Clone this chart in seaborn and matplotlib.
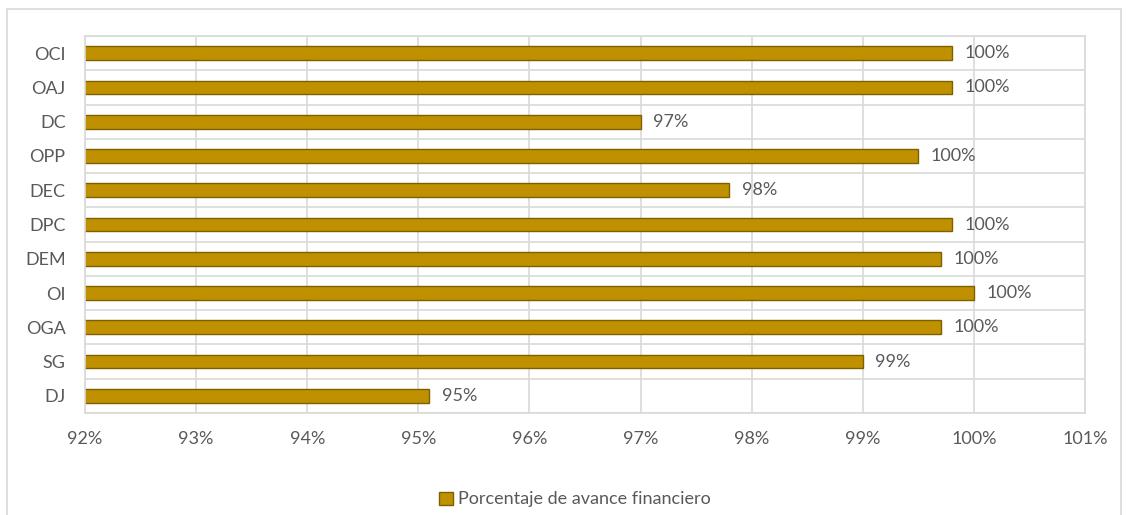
import matplotlib
matplotlib.use("Agg")
import matplotlib.pyplot as plt
import matplotlib.ticker as ticker
from matplotlib.patches import Rectangle, Patch
import pandas as pd
import seaborn as sns

# data, top to bottom as drawn
units = ["OCI", "OAJ", "DC", "OPP", "DEC", "DPC", "DEM", "OI", "OGA", "SG", "DJ"]
avance = [99.8, 99.8, 97.0, 99.5, 97.8, 99.8, 99.7, 100.0, 99.7, 99.0, 95.1]
series_name = "Porcentaje de avance financiero"

BAR = "#BF9000"
EDGE = "#7F6000"
TXT = "#595959"
GRID = "#D9D9D9"
FS = 13

sns.set_theme(style="white")
plt.rcParams["font.family"] = ["Lato", "DejaVu Sans"]

df = pd.DataFrame({"unidad": units, "valor": avance})

fig = plt.figure(figsize=(11.3, 5.15), dpi=100)
ax = fig.add_axes([85 / 1130, 1 - 413 / 515, 1000 / 1130, 377 / 515])

sns.barplot(data=df, y="unidad", x="valor", orient="h", color=BAR,
            edgecolor=EDGE, linewidth=1.0, width=0.4, saturation=1, ax=ax)

ax.set_xlim(92, 101)
ax.set_ylim(len(units) - 0.5, -0.5)
ax.xaxis.set_major_locator(ticker.MultipleLocator(1))
ax.xaxis.set_major_formatter(ticker.FuncFormatter(lambda v, p: f"{v:.0f}%"))

# vertical grid at each percent, horizontal lines between categories
ax.set_axisbelow(True)
ax.grid(axis="x", color=GRID, linewidth=1.2)
for k in range(len(units) + 1):
    ax.axhline(k - 0.5, color=GRID, linewidth=1.2, zorder=0)
for s in ax.spines.values():
    s.set_color(GRID)
    s.set_linewidth(1.2)

ax.tick_params(axis="both", length=0, colors=TXT, labelsize=FS)
ax.tick_params(axis="x", pad=13)
ax.tick_params(axis="y", pad=14)
ax.set_xlabel("")
ax.set_ylabel("")

ax.bar_label(ax.containers[0], labels=[f"{v:.0f}%" for v in avance],
             padding=9, color=TXT, fontsize=FS)

ax.legend(handles=[Patch(facecolor=BAR, edgecolor=EDGE, label=series_name)],
          loc="upper center", bbox_to_anchor=(0.49, -0.165), frameon=False,
          handlelength=0.75, handleheight=0.75, handletextpad=0.3,
          prop={"size": FS}, labelcolor=TXT)

# outer chart border (bottom edge falls outside the image)
fig.patches.append(Rectangle((7 / 1130, -0.05), 1114 / 1130, 1.05 - 9 / 515,
                             transform=fig.transFigure, fill=False,
                             edgecolor=GRID, linewidth=1.2))

fig.savefig("out.png", dpi=100)
